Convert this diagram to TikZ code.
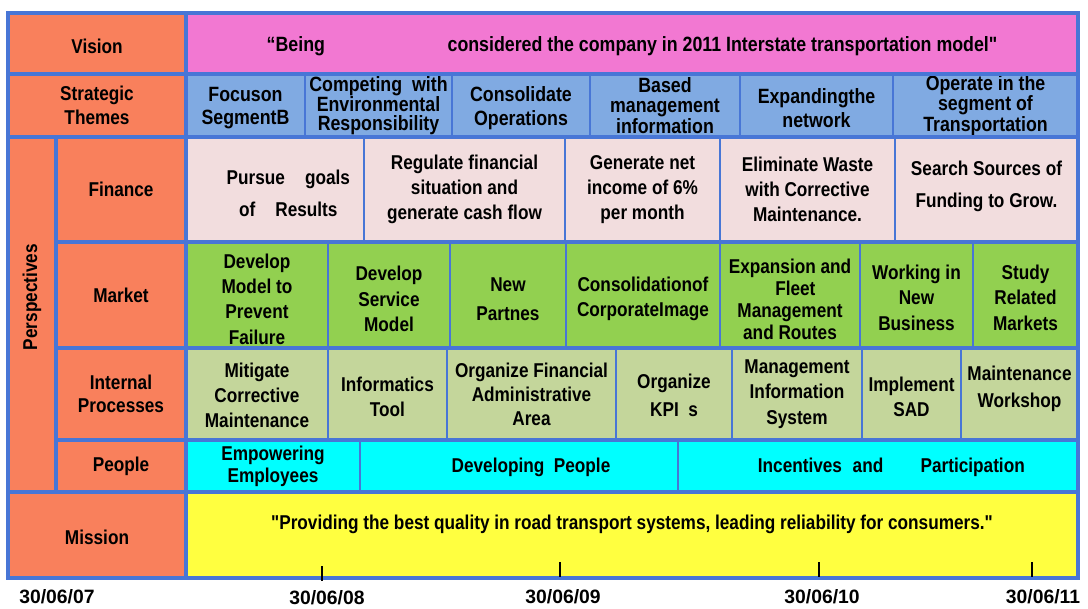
\documentclass[tikz,border=0pt]{standalone}
\usepackage{fontspec}
\setmainfont{Liberation Sans}
\newfontfamily\narrowfont{Liberation Sans}[FakeStretch=0.86]
\usetikzlibrary{positioning}
\definecolor{frameblue}{RGB}{72,118,214}
\definecolor{headorange}{RGB}{249,128,92}
\definecolor{visionpink}{RGB}{242,120,210}
\definecolor{themeblue}{RGB}{128,170,226}
\definecolor{financepink}{RGB}{242,221,222}
\definecolor{marketgreen}{RGB}{146,208,80}
\definecolor{processolive}{RGB}{196,214,155}
\definecolor{peoplecyan}{RGB}{0,255,255}
\definecolor{missionyellow}{RGB}{255,255,64}
\tikzstyle{headcell} = [fill=headorange, draw=frameblue, line width=1.2pt]
\tikzstyle{visioncell} = [fill=visionpink, draw=frameblue, line width=1.2pt]
\tikzstyle{themecell} = [fill=themeblue, draw=frameblue, line width=1.2pt]
\tikzstyle{financecell} = [fill=financepink, draw=frameblue, line width=1.2pt]
\tikzstyle{marketcell} = [fill=marketgreen, draw=frameblue, line width=1.2pt]
\tikzstyle{processcell} = [fill=processolive, draw=frameblue, line width=1.2pt]
\tikzstyle{peoplecell} = [fill=peoplecyan, draw=frameblue, line width=1.2pt]
\tikzstyle{missioncell} = [fill=missionyellow, draw=frameblue, line width=1.2pt]
\tikzstyle{celltext} = [align=center, inner sep=0pt, font=\narrowfont\bfseries\fontsize{15}{19}\selectfont]
\tikzstyle{tighttext} = [font=\narrowfont\bfseries\fontsize{15.5}{14}\selectfont]
\tikzstyle{looselines} = [font=\narrowfont\bfseries\fontsize{15}{24}\selectfont]
\tikzstyle{rowline} = [draw=frameblue, line width=2.4pt]
\tikzstyle{tick} = [line width=2pt]
\tikzstyle{datetext} = [inner sep=0pt, font=\bfseries\fontsize{14.5}{14.5}\selectfont]
% cell: name, fill style, x1, y1, x2, y2, text options, text
\newcommand{\bsccell}[8]{%
  \draw[#2] (#3,#4) rectangle (#5,#6);
  \node (#1) [celltext, #7] at ({(#3+#5)/2},{(#4+#6)/2}) {#8};}

\begin{document}
\begin{tikzpicture}[x=0.75pt, y=-0.75pt]
\useasboundingbox (0,0) rectangle (1088,608);

% vision
\bsccell{vis}{headcell}{8}{13}{186}{74}{yshift=-2pt}{Vision}
\bsccell{vistext}{visioncell}{186}{13}{1078}{74}{yshift=-2pt, font=\narrowfont\bfseries\fontsize{15.5}{19}\selectfont}{“Being\hspace{92pt}considered the company in 2011 Interstate transportation model"}

% strategic themes
\bsccell{themes}{headcell}{8}{74}{186}{137}{font=\narrowfont\bfseries\fontsize{15}{17.5}\selectfont}{Strategic\\Themes}
\bsccell{th1}{themecell}{186}{74}{305}{137}{yshift=-2pt, font=\narrowfont\bfseries\fontsize{15.5}{17.5}\selectfont}{Focuson\\SegmentB}
\bsccell{th2}{themecell}{305}{74}{452}{137}{tighttext}{Competing\ \ with\\Environmental\\Responsibility}
\bsccell{th3}{themecell}{452}{74}{590}{137}{yshift=-2pt, font=\narrowfont\bfseries\fontsize{15.5}{18.5}\selectfont}{Consolidate\\Operations}
\bsccell{th4}{themecell}{590}{74}{740}{137}{tighttext, font=\narrowfont\bfseries\fontsize{15.5}{15.5}\selectfont}{Based\\management\\information}
\bsccell{th5}{themecell}{740}{74}{893}{137}{yshift=-2pt, font=\narrowfont\bfseries\fontsize{15.5}{18}\selectfont}{Expandingthe\\network}
\bsccell{th6}{themecell}{893}{74}{1078}{137}{tighttext}{Operate in the\\segment of\\Transportation}

% perspectives
\draw[headcell] (8,137) rectangle (56,492);
\node (persp) [celltext, rotate=90] at (32,297) {Perspectives};

% finance
\bsccell{fin}{headcell}{56}{137}{186}{242}{}{Finance}
\bsccell{fi1}{financecell}{186}{137}{364}{242}{looselines, xshift=10pt, yshift=-3pt}{Pursue\quad goals\\of\quad Results}
\bsccell{fi2}{financecell}{364}{137}{565}{242}{}{Regulate financial\\situation and\\generate cash flow}
\bsccell{fi3}{financecell}{565}{137}{720}{242}{}{Generate net\\income of 6\%\\per month}
\bsccell{fi4}{financecell}{720}{137}{895}{242}{}{Eliminate Waste\\with Corrective\\Maintenance.}
\bsccell{fi5}{financecell}{895}{137}{1078}{242}{looselines, yshift=2pt}{Search Sources of\\Funding to Grow.}

% market
\bsccell{mkt}{headcell}{56}{242}{186}{348}{}{Market}
\bsccell{mk1}{marketcell}{186}{242}{328}{348}{yshift=-3pt}{Develop\\Model to\\Prevent\\Failure}
\bsccell{mk2}{marketcell}{328}{242}{450}{348}{yshift=-3pt}{Develop\\Service\\Model}
\bsccell{mk3}{marketcell}{450}{242}{566}{348}{yshift=-3pt, font=\narrowfont\bfseries\fontsize{15}{22}\selectfont}{New\\Partnes}
\bsccell{mk4}{marketcell}{566}{242}{720}{348}{yshift=-3pt}{Consolidationof\\CorporateImage}
\bsccell{mk5}{marketcell}{720}{242}{860}{348}{yshift=-3pt, font=\narrowfont\bfseries\fontsize{15}{16.5}\selectfont}{Expansion and\\\hspace*{8pt}Fleet\\Management\\and Routes}
\bsccell{mk6}{marketcell}{860}{242}{973}{348}{yshift=-2pt}{Working in\\New\\Business}
\bsccell{mk7}{marketcell}{973}{242}{1078}{348}{yshift=-2pt}{Study\\Related\\Markets}

% internal processes
\bsccell{proc}{headcell}{56}{348}{186}{440}{font=\narrowfont\bfseries\fontsize{15}{17}\selectfont}{Internal\\Processes}
\bsccell{ip1}{processcell}{186}{348}{328}{440}{yshift=-1pt}{Mitigate\\Corrective\\Maintenance}
\bsccell{ip2}{processcell}{328}{348}{447}{440}{yshift=-2pt}{Informatics\\Tool}
\bsccell{ip3}{processcell}{447}{348}{616}{440}{font=\narrowfont\bfseries\fontsize{15}{18}\selectfont}{Organize Financial\\Administrative\\Area}
\bsccell{ip4}{processcell}{616}{348}{732}{440}{yshift=-1pt, font=\narrowfont\bfseries\fontsize{15}{21}\selectfont}{Organize\\KPI\ \ s}
\bsccell{ip5}{processcell}{732}{348}{862}{440}{}{Management\\Information\\System}
\bsccell{ip6}{processcell}{862}{348}{961}{440}{yshift=-2pt}{Implement\\SAD}
\bsccell{ip7}{processcell}{961}{348}{1078}{440}{yshift=4pt, font=\narrowfont\bfseries\fontsize{15}{20}\selectfont}{Maintenance\\Workshop}

% people
\bsccell{ppl}{headcell}{56}{440}{186}{492}{}{People}
\bsccell{pp1}{peoplecell}{186}{440}{360}{492}{font=\narrowfont\bfseries\fontsize{15}{16.5}\selectfont}{Empowering\\Employees}
\bsccell{pp2}{peoplecell}{360}{440}{678}{492}{xshift=9pt, yshift=-1pt}{Developing\ \ People}
\bsccell{pp3}{peoplecell}{678}{440}{1078}{492}{xshift=10pt, yshift=-1pt}{Incentives\hspace{8pt}and\hspace{28pt}Participation}

% mission
\bsccell{mis}{headcell}{8}{492}{186}{578}{yshift=-2pt}{Mission}
\bsccell{mistext}{missioncell}{186}{492}{1078}{578}{yshift=8pt}{"Providing the best quality in road transport systems, leading reliability for consumers."}

% grid
\draw[rowline] (8,74) -- (1078,74);
\draw[rowline] (8,137) -- (1078,137);
\draw[rowline] (56,242) -- (1078,242);
\draw[rowline] (56,348) -- (1078,348);
\draw[rowline] (56,440) -- (1078,440);
\draw[rowline] (8,492) -- (1078,492);
\draw[rowline] (186,13) -- (186,578);
\draw[rowline] (56,137) -- (56,492);
\draw[rowline] (8,13) rectangle (1078,578);

% time line
\draw[tick] (322,566) -- (322,581);
\draw[tick] (560,562) -- (560,577);
\draw[tick] (819,562) -- (819,577);
\draw[tick] (1032,562) -- (1032,577);
\node (d07) [datetext] at (57,597) {30/06/07};
\node (d08) [datetext] at (327,598) {30/06/08};
\node (d09) [datetext] at (563,597) {30/06/09};
\node (d10) [datetext] at (822,597) {30/06/10};
\node (d11) [datetext] at (1043,597) {30/06/11};
\end{tikzpicture}
\end{document}
